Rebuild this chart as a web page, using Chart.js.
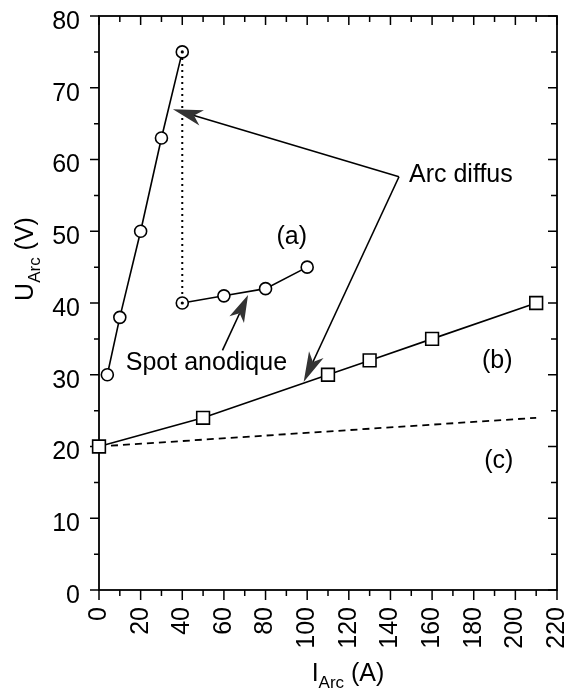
<!DOCTYPE html>
<html><head><meta charset="utf-8">
<script src="https://cdn.jsdelivr.net/npm/chart.js@4"></script>
<style>html,body{margin:0;padding:0;background:#fff}</style>
</head><body>
<canvas id="c" width="568" height="689"></canvas>
<script>
// ---- data ----
const xTickValues = [0,20,40,60,80,100,120,140,160,180,200,220];
const xMinorTicks = [10,30,50,70,90,110,130,150,170,190,210];
const yTickValues = [0,10,20,30,40,50,60,70,80];
const yMinorTicks = [5,15,25,35,45,55,65,75];

const aUpperI = [4,10,20,30,40];
const aUpperU = [30,38,50,63,75];
const aLowerI = [40,60,80,100];
const aLowerU = [40,41,42,45];
const jumpI = [40,40];
const jumpU = [75,40];
const bI = [0,50,110,130,160,210];
const bU = [20,24,30,32,35,40];
const cI = [0,210];
const cU = [20,24];

// annotations (in data units)
const labelTexts = ['Arc diffus','(a)','Spot anodique','(b)','(c)'];
const labelI = [148.9, 92.6, 51.6, 191.3, 192];
const labelU = [56.9, 49.2, 30.7, 31.9, 18.0];
const arcJunction = [144.1, 57.6];
const arcTips = [[35.5, 67.0],[98.3, 29.0]];
const spotArrow = [[59.3, 33.4],[71.6, 41.1]];

const FONT = '"Liberation Sans", Arial, Helvetica, sans-serif';
const pts = (xs, ys) => xs.map((x,i)=>({x, y: ys[i]}));

const frameTicks = {
  id: 'frameTicks',
  beforeDatasetsDraw(chart) {
    const {ctx, chartArea: ca, scales: {x, y}} = chart;
    ctx.save();
    ctx.strokeStyle = '#000';
    ctx.lineWidth = 1.8;
    ctx.strokeRect(ca.left, ca.top, ca.right - ca.left, ca.bottom - ca.top);
    ctx.lineWidth = 1.5;
    ctx.beginPath();
    const xt = (v, len, lenIn) => {
      const px = x.getPixelForValue(v);
      ctx.moveTo(px, ca.bottom); ctx.lineTo(px, ca.bottom + len);
      ctx.moveTo(px, ca.top); ctx.lineTo(px, ca.top + lenIn);
    };
    const yt = (v, len, lenIn) => {
      const py = y.getPixelForValue(v);
      ctx.moveTo(ca.left, py); ctx.lineTo(ca.left - len, py);
      ctx.moveTo(ca.right, py); ctx.lineTo(ca.right - lenIn, py);
    };
    xTickValues.forEach(v => xt(v, 10, 9));
    xMinorTicks.forEach(v => xt(v, 6, 6));
    yTickValues.forEach(v => yt(v, 9, 9));
    yMinorTicks.forEach(v => yt(v, 5, 6));
    ctx.stroke();
    ctx.restore();
  },
  afterDraw(chart) {
    const {ctx, scales: {x, y}} = chart;
    ctx.save();
    ctx.fillStyle = '#000';
    ctx.strokeStyle = '#000';
    // annotations
    ctx.textBaseline = 'alphabetic';
    ctx.font = '25px ' + FONT;
    labelTexts.forEach((t, i) => {
      const px = x.getPixelForValue(labelI[i]);
      const py = y.getPixelForValue(labelU[i]);
      if (i === 0) { ctx.textAlign = 'left'; ctx.textBaseline = 'alphabetic'; }
      else if (i === 2) { ctx.textAlign = 'center'; ctx.textBaseline = 'alphabetic'; }
      else { ctx.textAlign = 'center'; ctx.textBaseline = 'middle'; }
      ctx.fillText(t, px, py);
    });
    function arrow(x0, y0, x1, y1, L, W, N) {
      const a = Math.atan2(y1 - y0, x1 - x0);
      ctx.lineWidth = 1.6;
      ctx.beginPath();
      ctx.moveTo(x0, y0);
      ctx.lineTo(x1 - Math.cos(a) * N, y1 - Math.sin(a) * N);
      ctx.stroke();
      ctx.save();
      ctx.translate(x1, y1); ctx.rotate(a);
      ctx.fillStyle = '#333';
      ctx.beginPath();
      ctx.moveTo(0, 0); ctx.lineTo(-L, -W); ctx.lineTo(-N, 0); ctx.lineTo(-L, W);
      ctx.closePath(); ctx.fill();
      ctx.restore();
    }
    const jx = x.getPixelForValue(arcJunction[0]), jy = y.getPixelForValue(arcJunction[1]);
    arcTips.forEach(t => arrow(jx, jy, x.getPixelForValue(t[0]), y.getPixelForValue(t[1]), 30, 8, 22));
    arrow(x.getPixelForValue(spotArrow[0][0]), y.getPixelForValue(spotArrow[0][1]),
          x.getPixelForValue(spotArrow[1][0]), y.getPixelForValue(spotArrow[1][1]), 27, 8, 20);

    // axis titles with subscripts
    ctx.textBaseline = 'alphabetic';
    ctx.textAlign = 'left';
    const big = '25px ' + FONT, small = '17px ' + FONT;
    function titleParts(parts) {
      let w = 0;
      parts.forEach(p => { ctx.font = p[1]; w += ctx.measureText(p[0]).width; });
      return w;
    }
    const xParts = [['I', big, 0], ['Arc', small, 7], [' (A)', big, 0]];
    let w = titleParts(xParts);
    let cx = 348 - w / 2;
    xParts.forEach(p => { ctx.font = p[1]; ctx.fillText(p[0], cx, 681 + p[2]); cx += ctx.measureText(p[0]).width; });

    const yParts = [['U', big, 0], ['Arc', small, 7], [' (V)', big, 0]];
    w = titleParts(yParts);
    ctx.translate(33, 259);
    ctx.rotate(-Math.PI / 2);
    cx = -w / 2;
    yParts.forEach(p => { ctx.font = p[1]; ctx.fillText(p[0], cx, p[2]); cx += ctx.measureText(p[0]).width; });
    ctx.restore();
  }
};

const circleStyle = {
  borderColor: '#000', borderWidth: 1.6,
  pointStyle: 'circle', pointRadius: 6, pointBackgroundColor: '#fff',
  pointBorderColor: '#000', pointBorderWidth: 1.6, showLine: true, tension: 0, clip: false
};

new Chart(document.getElementById('c'), {
  type: 'scatter',
  data: {
    datasets: [
      { label: 'centres', data: [{x: jumpI[0], y: jumpU[0]}, {x: jumpI[1], y: jumpU[1]}],
        showLine: false, pointRadius: 1.6, pointBackgroundColor: '#000', pointBorderWidth: 0, clip: false },
      Object.assign({ label: 'a-diffus', data: pts(aUpperI, aUpperU) }, circleStyle),
      Object.assign({ label: 'a-spot', data: pts(aLowerI, aLowerU) }, circleStyle),
      { label: 'b', data: pts(bI, bU), showLine: true, borderColor: '#000', borderWidth: 1.6,
        pointStyle: 'rect', pointRadius: 9, pointBackgroundColor: '#fff', pointBorderColor: '#000',
        pointBorderWidth: 1.6, clip: false },
      { label: 'c', data: pts(cI, cU), showLine: true, borderColor: '#000', borderWidth: 1.8,
        borderDash: [7, 5], pointRadius: 0, clip: false },
      { label: 'saut', data: pts(jumpI, jumpU), showLine: true, borderColor: '#000', borderWidth: 2,
        borderDash: [2, 4], pointRadius: 0, clip: false }
    ]
  },
  options: {
    responsive: false,
    devicePixelRatio: 1,
    animation: false,
    layout: { padding: { top: 16, right: 11, left: 0, bottom: 0 } },
    plugins: { legend: { display: false }, tooltip: { enabled: false } },
    scales: {
      x: {
        type: 'linear', min: 0, max: 220,
        afterBuildTicks: s => { s.ticks = xTickValues.map(v => ({ value: v })); },
        afterFit: s => { s.height = 99; s.paddingLeft = 0; s.paddingRight = 0; },
        grid: { display: true, drawOnChartArea: false, drawTicks: true, tickLength: 10, color: 'rgba(0,0,0,0)' },
        border: { display: false },
        ticks: { color: '#000', font: { family: FONT, size: 25 }, minRotation: 90, maxRotation: 90, padding: 7, autoSkip: false }
      },
      y: {
        type: 'linear', min: 0, max: 80,
        afterBuildTicks: s => { s.ticks = yTickValues.map(v => ({ value: v })); },
        afterFit: s => { s.width = 99; s.paddingTop = 0; s.paddingBottom = 0; },
        grid: { display: true, drawOnChartArea: false, drawTicks: true, tickLength: 9, color: 'rgba(0,0,0,0)' },
        border: { display: false },
        ticks: { color: '#000', font: { family: FONT, size: 25 }, padding: 10, labelOffset: 6, autoSkip: false }
      }
    }
  },
  plugins: [frameTicks]
});
</script>
</body></html>
